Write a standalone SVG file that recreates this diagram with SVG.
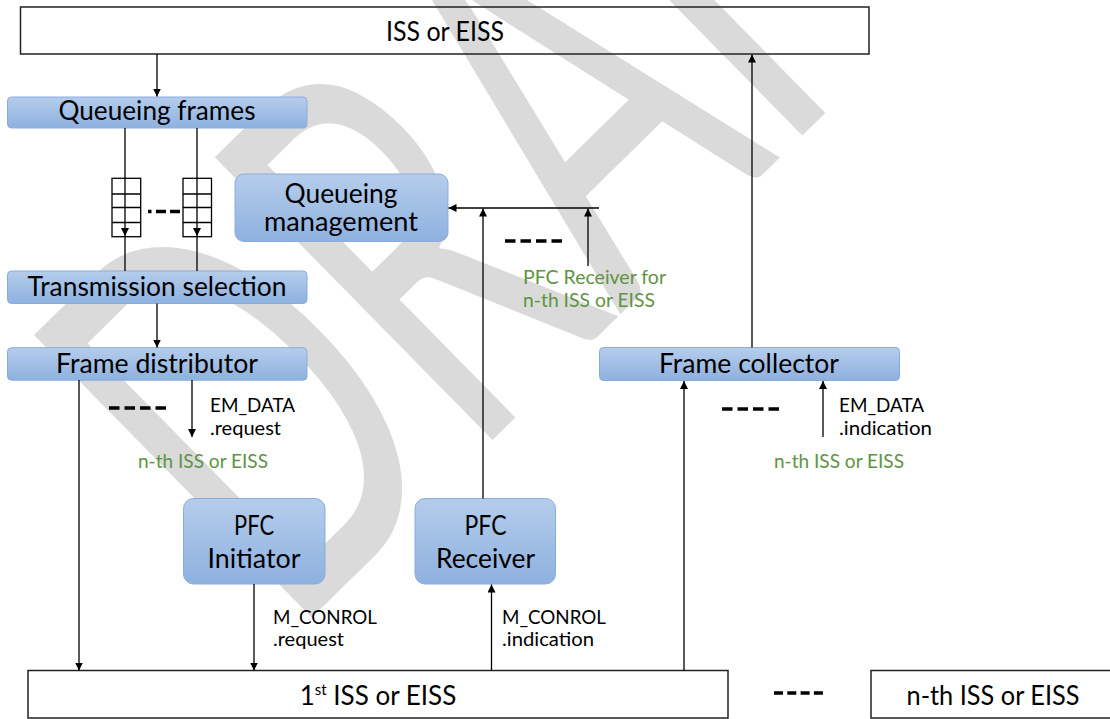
<svg xmlns="http://www.w3.org/2000/svg" width="1110" height="719" viewBox="0 0 1110 719">
<defs>
<linearGradient id="blue" x1="0" y1="0" x2="0" y2="1">
<stop offset="0" stop-color="#b5cdec"/>
<stop offset="1" stop-color="#8eb1df"/>
</linearGradient>
<marker id="ah" viewBox="0 0 10 10" refX="10" refY="5" markerWidth="8" markerHeight="8" markerUnits="userSpaceOnUse" orient="auto">
<path d="M0,0 L10,5 L0,10 z" fill="#000"/>
</marker>
<style>
.box{fill:url(#blue);stroke:#8aacdc;stroke-width:1}
.plain{fill:#fff;stroke:#222;stroke-width:1.5}
.q{fill:#fff;stroke:#000;stroke-width:1.3}
.ln{fill:none;stroke:#000;stroke-width:1.3}
.arr{fill:none;stroke:#000;stroke-width:1.3;marker-end:url(#ah)}
.dash{stroke:#000;stroke-width:3.5;stroke-dasharray:10.5 5;fill:none}
text{font-family:Lato,"Liberation Sans",sans-serif}
.t{font-size:26px;fill:#000;text-anchor:middle}
.s{font-size:18.5px;fill:#000}
.g{font-size:18.5px;fill:#5e9441}
.wm{font-size:553px;fill:#dadada}
</style>
</defs>
<g id="watermark">
<text class="wm" transform="translate(290,639) rotate(-44.5)" textLength="1073" lengthAdjust="spacingAndGlyphs">DRAFT</text>
</g>
<g id="iss-top">
<rect class="plain" x="20.5" y="7" width="848.5" height="47" style="fill:none"/>
<text class="t" x="445" y="41" textLength="118" lengthAdjust="spacingAndGlyphs">ISS or EISS</text>
</g>
<g id="queueing-frames">
<rect class="box" x="7.5" y="97" width="299.5" height="31" rx="4"/>
<text class="t" x="157" y="120" textLength="197" lengthAdjust="spacingAndGlyphs">Queueing frames</text>
</g>
<g id="queue-1">
<rect class="q" x="112" y="178.3" width="28.7" height="58.4"/>
<path class="ln" d="M112,194H140.7M112,207.5H140.7M112,222.5H140.7"/>
</g>
<g id="queue-2">
<rect class="q" x="183" y="178.3" width="28.5" height="58.4"/>
<path class="ln" d="M183,194H211.5M183,207.5H211.5M183,222.5H211.5"/>
</g>
<g id="transmission-selection">
<rect class="box" x="7.5" y="271" width="299.5" height="32.5" rx="4"/>
<text class="t" x="157" y="296" textLength="259" lengthAdjust="spacingAndGlyphs">Transmission selection</text>
</g>
<g id="frame-distributor">
<rect class="box" x="7.5" y="347.7" width="299.5" height="32.5" rx="4"/>
<text class="t" x="157" y="373" textLength="202" lengthAdjust="spacingAndGlyphs">Frame distributor</text>
</g>
<g id="queueing-management">
<rect class="box" x="235" y="174" width="213" height="67.5" rx="9"/>
<text class="t" x="341" y="202.5" textLength="113" lengthAdjust="spacingAndGlyphs">Queueing</text>
<text class="t" x="341" y="230.5" textLength="154" lengthAdjust="spacingAndGlyphs">management</text>
</g>
<g id="frame-collector">
<rect class="box" x="599.5" y="347.5" width="300" height="33" rx="4"/>
<text class="t" x="749" y="373" textLength="180" lengthAdjust="spacingAndGlyphs">Frame collector</text>
</g>
<g id="pfc-initiator">
<rect class="box" x="183.5" y="498.5" width="141.5" height="85.5" rx="10"/>
<text class="t" x="254" y="535" textLength="40" lengthAdjust="spacingAndGlyphs">PFC</text>
<text class="t" x="254" y="568" textLength="93" lengthAdjust="spacingAndGlyphs">Initiator</text>
</g>
<g id="pfc-receiver">
<rect class="box" x="415" y="498.5" width="140.5" height="85.5" rx="10"/>
<text class="t" x="485.5" y="535" textLength="42" lengthAdjust="spacingAndGlyphs">PFC</text>
<text class="t" x="485.5" y="568" textLength="99" lengthAdjust="spacingAndGlyphs">Receiver</text>
</g>
<g id="iss-1st">
<rect class="plain" x="28" y="670.5" width="700" height="47.5"/>
<text class="t" x="378" y="705">1<tspan font-size="15" dy="-10">st</tspan><tspan dy="10"> ISS or EISS</tspan></text>
</g>
<g id="iss-nth">
<rect class="plain" x="871" y="670.5" width="245" height="47.5"/>
<text class="t" x="993" y="705" textLength="173" lengthAdjust="spacingAndGlyphs">n-th ISS or EISS</text>
</g>
<g id="connectors">
<line class="arr" x1="157" y1="54" x2="157" y2="96.5"/>
<line class="arr" x1="125" y1="128" x2="125" y2="236"/>
<line class="ln" x1="125" y1="236" x2="125" y2="271"/>
<line class="arr" x1="197" y1="128" x2="197" y2="236"/>
<line class="ln" x1="197" y1="236" x2="197" y2="271"/>
<path d="M148,211.5H151.5M156,211.5H166M170,211.5H180" stroke="#000" stroke-width="3.5" fill="none"/>
<line class="arr" x1="157" y1="303.5" x2="157" y2="347.5"/>
<line class="arr" x1="79" y1="380" x2="79" y2="670.5"/>
<line class="arr" x1="192" y1="380" x2="192" y2="437"/>
<line class="dash" x1="109" y1="408" x2="166" y2="408"/>
<line class="arr" x1="599" y1="208" x2="448.5" y2="208"/>
<line class="arr" x1="483" y1="498.5" x2="483" y2="208.5"/>
<line class="arr" x1="588" y1="266" x2="588" y2="208.5"/>
<line class="dash" x1="505" y1="241" x2="562" y2="241"/>
<line class="arr" x1="752" y1="347.5" x2="752" y2="54.5"/>
<line class="arr" x1="684" y1="670.5" x2="684" y2="381"/>
<line class="arr" x1="823" y1="437" x2="823" y2="381"/>
<line class="dash" x1="722" y1="409" x2="779" y2="409"/>
<line class="arr" x1="254" y1="584" x2="254" y2="670.5"/>
<line class="arr" x1="491.5" y1="670.5" x2="491.5" y2="584.5"/>
<line class="dash" x1="774" y1="693" x2="823" y2="693" style="stroke-dasharray:9 4.3"/>
</g>
<g id="labels">
<text class="s" x="210" y="412" textLength="85" lengthAdjust="spacingAndGlyphs">EM_DATA</text>
<text class="s" x="210" y="435" textLength="71" lengthAdjust="spacingAndGlyphs">.request</text>
<text class="g" x="138" y="468" textLength="130" lengthAdjust="spacingAndGlyphs">n-th ISS or EISS</text>
<text class="g" x="523" y="284" textLength="143" lengthAdjust="spacingAndGlyphs">PFC Receiver for</text>
<text class="g" x="523" y="306.5" textLength="132" lengthAdjust="spacingAndGlyphs">n-th ISS or EISS</text>
<text class="s" x="839" y="412" textLength="85" lengthAdjust="spacingAndGlyphs">EM_DATA</text>
<text class="s" x="839" y="435" textLength="93" lengthAdjust="spacingAndGlyphs">.indication</text>
<text class="g" x="774" y="468" textLength="130" lengthAdjust="spacingAndGlyphs">n-th ISS or EISS</text>
<text class="s" x="273" y="623.5" textLength="104" lengthAdjust="spacingAndGlyphs">M_CONROL</text>
<text class="s" x="273" y="646" textLength="71" lengthAdjust="spacingAndGlyphs">.request</text>
<text class="s" x="502" y="623.5" textLength="104" lengthAdjust="spacingAndGlyphs">M_CONROL</text>
<text class="s" x="502" y="646" textLength="92" lengthAdjust="spacingAndGlyphs">.indication</text>
</g>
</svg>
